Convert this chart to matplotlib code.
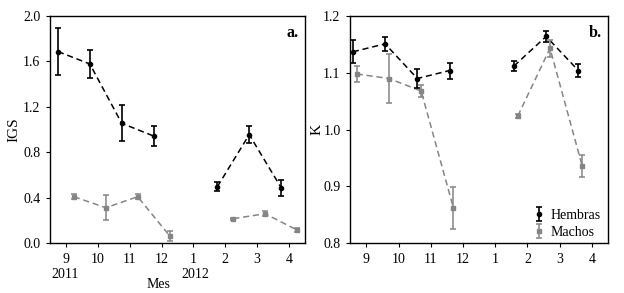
import matplotlib
matplotlib.use("Agg")
import matplotlib.pyplot as plt
import numpy as np

plt.rcParams['font.family'] = ['Liberation Serif', 'DejaVu Serif']
plt.rcParams['font.size'] = 10

month_labels = ['9', '10', '11', '12', '1', '2', '3', '4']
month_pos = np.arange(8)

# Sampled month positions (index into month_labels): Sep-Dec 2011, Feb-Apr 2012
seg1 = [0, 1, 2, 3]
seg2 = [5, 6, 7]

# IGS (panel a)
igs_h = [1.687, 1.578, 1.056, 0.944, 0.498, 0.956, 0.490]
igs_h_err = [0.21, 0.12, 0.16, 0.085, 0.04, 0.075, 0.07]
igs_m = [0.41, 0.313, 0.41, 0.067, 0.217, 0.26, 0.117]
igs_m_err = [0.02, 0.11, 0.02, 0.045, 0.01, 0.02, 0.02]

# K (panel b)
k_h = [1.137, 1.151, 1.090, 1.104, 1.112, 1.164, 1.104]
k_h_err = [0.02, 0.012, 0.017, 0.014, 0.008, 0.01, 0.012]
k_m = [1.098, 1.090, 1.068, 0.8625, 1.024, 1.143, 0.936]
k_m_err = [0.014, 0.043, 0.01, 0.037, 0.003, 0.015, 0.02]

black = '#000000'
gray = '#858585'

W, H = 624, 293
fig = plt.figure(figsize=(W / 100, H / 100), dpi=100)
ax1 = fig.add_axes([50/W, 1-243.3/H, 255/W, 227.3/H])
ax2 = fig.add_axes([350.3/W, 1-243.3/H, 257.7/W, 227.3/H])


def draw(ax, vals, errs, off, color, marker, ms, lw_err, label):
    xs = [p + off for p in seg1 + seg2]
    n1 = len(seg1)
    for sl in (slice(0, n1), slice(n1, None)):
        ax.plot(xs[sl], vals[sl], linestyle=(0, (4, 2.5)), color=color, lw=1.1, zorder=2)
    h = ax.errorbar(xs, vals, yerr=errs, fmt=marker, color=color, ms=ms,
                    ecolor=color, elinewidth=lw_err, capsize=2.2, capthick=lw_err,
                    label=label, zorder=3)
    return h


for ax in (ax1, ax2):
    ax.set_xlim(-0.5, 7.5)
    ax.set_xticks(month_pos)
    ax.set_xticklabels(month_labels)
    ax.tick_params(direction='out', length=3, width=0.8, pad=4, labelsize=10)
    for s in ax.spines.values():
        s.set_linewidth(1.0)

# Panel a
draw(ax1, igs_h, igs_h_err, -0.25, black, 'o', 3.0, 1.2, 'Hembras')
draw(ax1, igs_m, igs_m_err, 0.25, gray, 's', 2.8, 1.1, 'Machos')
ax1.set_ylim(0, 2.0)
ax1.set_yticks([0.0, 0.4, 0.8, 1.2, 1.6, 2.0])
ax1.set_yticklabels(['0.0', '0.4', '0.8', '1.2', '1.6', '2.0'])
ax1.set_ylabel('IGS', fontsize=11, labelpad=2)
ax1.text(0.975, 0.925, 'a.', transform=ax1.transAxes, ha='right', va='center',
         fontsize=11.5, fontweight='bold')
fig.text(65/W, 1-275/H, '2011', ha='center', va='center', fontsize=10)
fig.text(195/W, 1-274/H, '2012', ha='center', va='center', fontsize=10)
fig.text(158/W, 1-284/H, 'Mes', ha='center', va='center', fontsize=10)

# Panel b
hh = draw(ax2, k_h, k_h_err, -0.42, black, 'o', 3.0, 1.2, 'Hembras')
hm = draw(ax2, k_m, k_m_err, -0.30, gray, 's', 2.8, 1.1, 'Machos')
ax2.set_ylim(0.8, 1.2)
ax2.set_yticks([0.8, 0.9, 1.0, 1.1, 1.2])
ax2.set_yticklabels(['0.8', '0.9', '1.0', '1.1', '1.2'])
ax2.set_ylabel('K', fontsize=11, labelpad=0)
ax2.text(0.975, 0.925, 'b.', transform=ax2.transAxes, ha='right', va='center',
         fontsize=11.5, fontweight='bold')
ax2.legend(handles=[hh, hm], loc='lower right', frameon=False, fontsize=10,
           handlelength=1.0, handletextpad=0.3, borderaxespad=0.15,
           labelspacing=0.3, bbox_to_anchor=(1.0, -0.015))

fig.savefig('out.png', dpi=100)
